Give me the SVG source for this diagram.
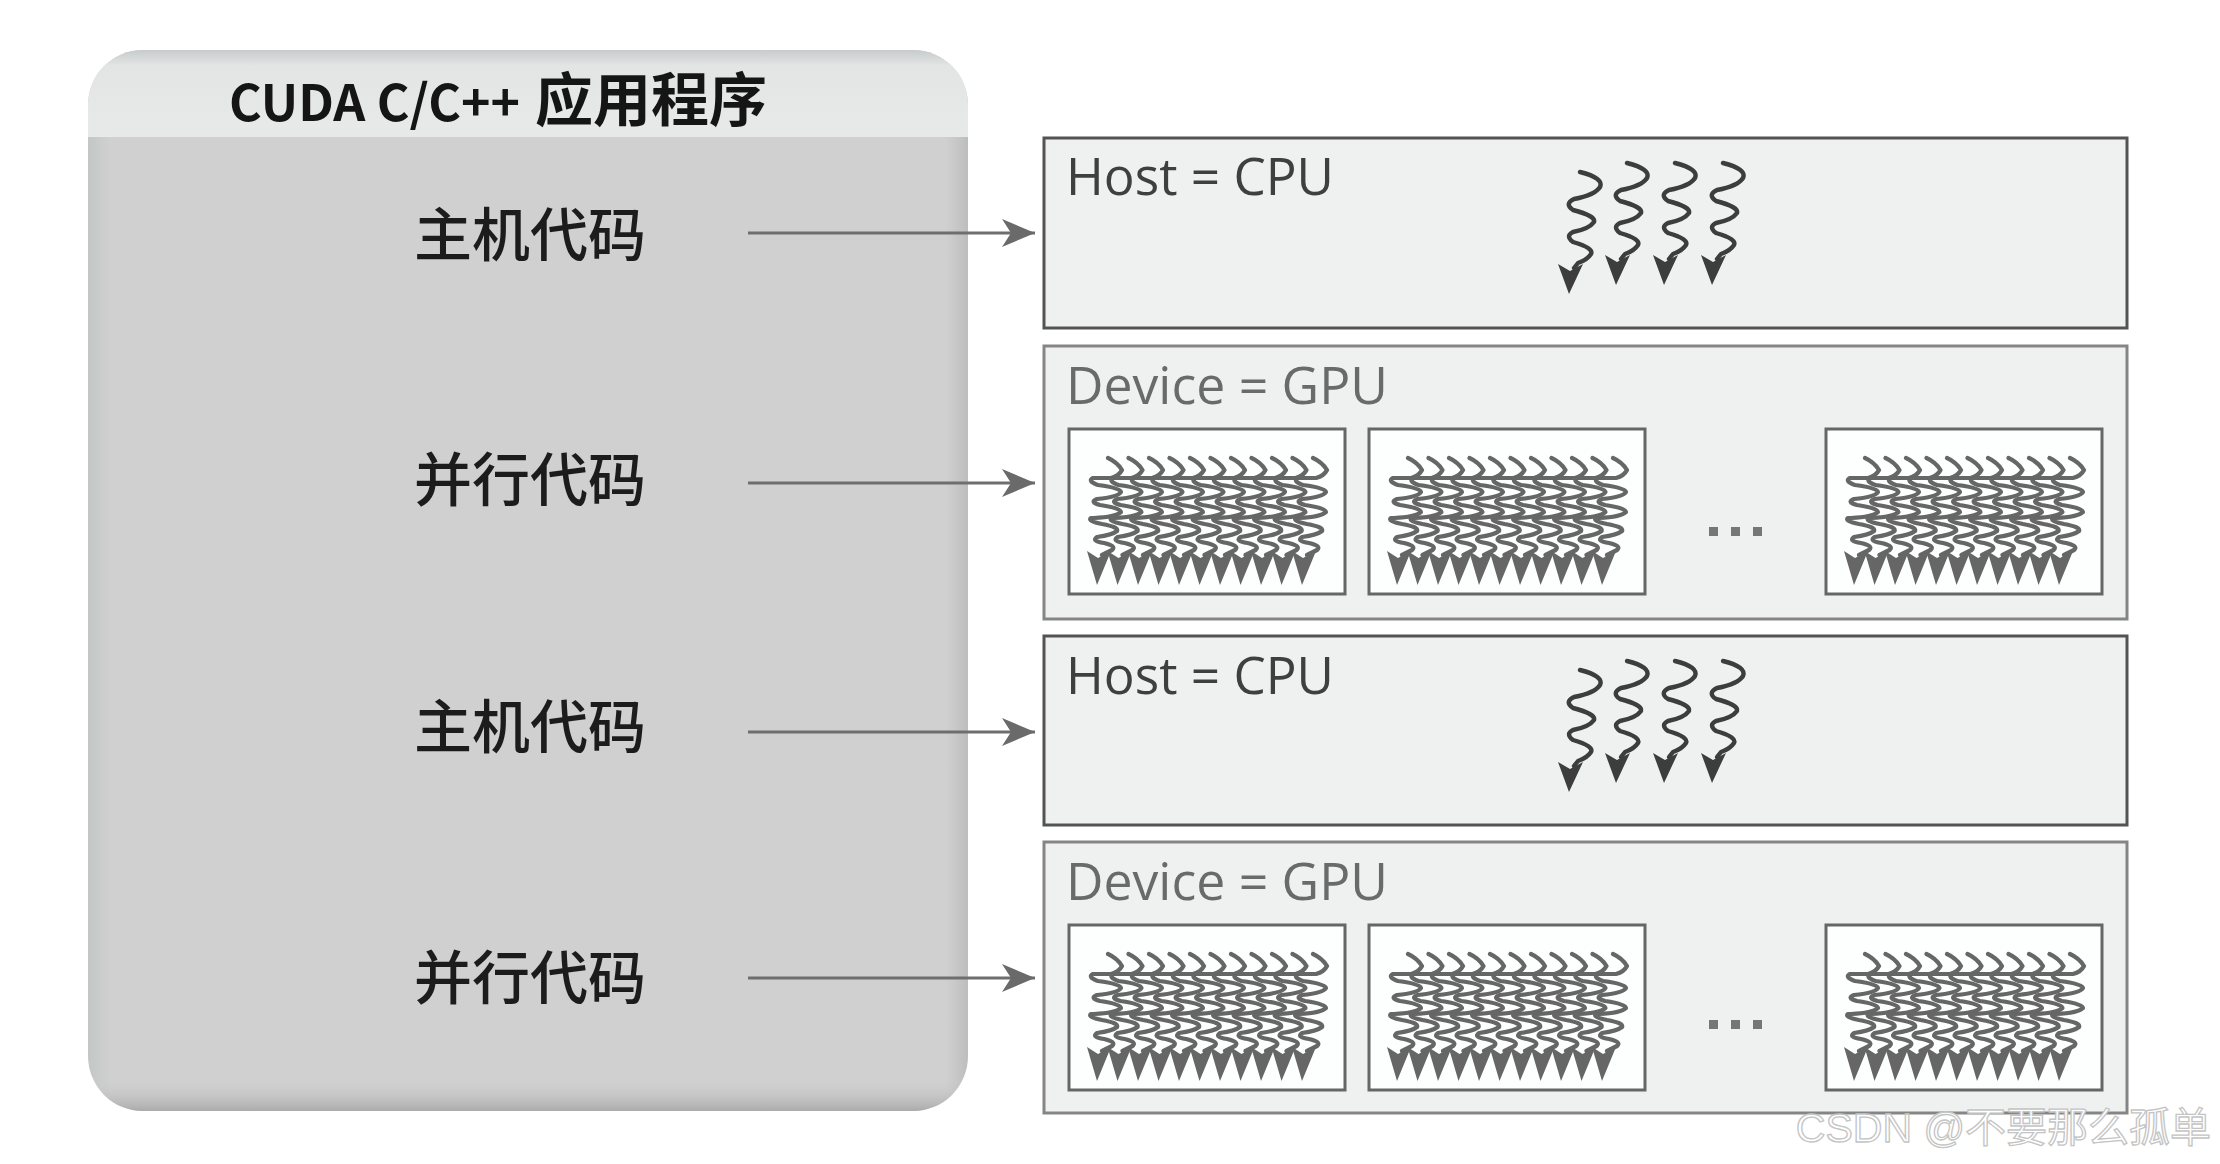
<svg xmlns="http://www.w3.org/2000/svg" width="2220" height="1164" viewBox="0 0 2220 1164">
<style>
.title{font-family:"Noto Sans CJK SC","Liberation Sans",sans-serif;font-weight:700;fill:#151515}
.lbl{font-family:"Noto Sans CJK SC",sans-serif;font-size:58px;fill:#1c1c1c;text-anchor:middle;font-weight:500}
.hbox{fill:#eff1f1;stroke:#535353;stroke-width:3}
.dbox{fill:#eff1f1;stroke:#858585;stroke-width:3}
.blk{fill:#fdfefe;stroke:#666;stroke-width:3}
.gt{fill:none;stroke:#666;stroke-width:4.2;stroke-linejoin:round;stroke-linecap:round}
.ga{fill:#666}
.ct{fill:none;stroke:#3d3d3d;stroke-width:4.4;stroke-linejoin:round;stroke-linecap:round}
.ca{fill:#3d3d3d}
.conn{stroke:#6e6e6e;stroke-width:3;fill:none}
.htxt{font-family:"Open Sans","Liberation Sans",sans-serif;font-size:51px;font-weight:400;fill:#3f3f3f}
.dtxt{font-family:"Open Sans","Liberation Sans",sans-serif;font-size:51px;font-weight:400;fill:#6a6a6a}
.dots{fill:#767676}
.wm{font-family:"Liberation Sans","Noto Sans CJK SC",sans-serif;font-size:41px;fill:#ffffff;stroke:#c4c4c4;stroke-width:1.3;text-anchor:end}
</style>
<defs>
<marker id="arr" markerWidth="36" markerHeight="30" refX="33" refY="15" orient="auto" markerUnits="userSpaceOnUse">
<path d="M0,1 L33,15 L0,29 L9,15 Z" fill="#6a6a6a"/>
</marker>
<clipPath id="pclip"><rect x="88" y="50" width="880" height="1061" rx="55" ry="55"/></clipPath>
<linearGradient id="bodyG" x1="0" y1="0" x2="1" y2="0">
<stop offset="0" stop-color="#c4c6c6"/><stop offset="0.025" stop-color="#d0d0d0"/><stop offset="0.975" stop-color="#d0d0d0"/><stop offset="1" stop-color="#bdbdbd"/>
</linearGradient>
<linearGradient id="hdrG" x1="0" y1="50" x2="0" y2="137" gradientUnits="userSpaceOnUse">
<stop offset="0" stop-color="#c8cbcb"/><stop offset="0.18" stop-color="#e3e5e5"/><stop offset="1" stop-color="#e8eaea"/>
</linearGradient>
<linearGradient id="botG" x1="0" y1="1078" x2="0" y2="1111" gradientUnits="userSpaceOnUse">
<stop offset="0" stop-color="#d0d0d0" stop-opacity="0"/><stop offset="1" stop-color="#ababab"/>
</linearGradient>
<g id="gthr">
<path class="gt" d="M0,0 Q9,4 14,12 Q11,18 3,20 L-15,20 Q-21,23 -10,27 Q13,30 13,34 Q10,39 -11,41 Q-19,44 -8,47 Q13,50 13,54 Q8,59 -14,60 L-17,60 Q-21,63 -6,66 Q11,69 9,73 Q4,77 -11,79 Q-17,83 -4,85 Q9,88 4,92 L-6,97"/>
<path class="ga" d="M-21,93 L-10,100 L3,93 L-11,127 Z"/>
</g>
<g id="gblk">
<rect class="blk" x="0" y="0" width="276" height="165"/>
<use href="#gthr" x="39" y="29"/>
<use href="#gthr" x="59.5" y="29"/>
<use href="#gthr" x="80" y="29"/>
<use href="#gthr" x="100.5" y="29"/>
<use href="#gthr" x="121" y="29"/>
<use href="#gthr" x="141.5" y="29"/>
<use href="#gthr" x="162" y="29"/>
<use href="#gthr" x="182.5" y="29"/>
<use href="#gthr" x="203" y="29"/>
<use href="#gthr" x="223.5" y="29"/>
<use href="#gthr" x="244" y="29"/>
</g>
<g id="cthr">
<path class="ct" d="M0,0 Q24,6 20,15 Q15,23 -6,27 Q-16,32 -7,38 Q16,44 14,50 Q9,57 -7,60 Q-15,64 -7,70 Q14,76 11,82 Q7,88 -2,91 L-6,96"/>
<path class="ca" d="M-22,92 L-10,99 L3,92 L-11,122 Z"/>
</g>
</defs>
<rect x="0" y="0" width="2220" height="1164" fill="#ffffff"/>

<g id="app">
<g clip-path="url(#pclip)">
<rect x="88" y="50" width="880" height="1061" fill="url(#bodyG)"/>
<rect x="88" y="50" width="880" height="87" fill="url(#hdrG)"/>
<rect x="88" y="1078" width="880" height="33" fill="url(#botG)"/>
</g>
<text class="title" x="229" y="121"><tspan font-size="50">CUDA C/C++</tspan><tspan x="535" font-size="58">应用程序</tspan></text>
</g>

<g id="label-host1"><text class="lbl" x="530" y="256">主机代码</text></g>
<g id="label-par1"><text class="lbl" x="530" y="501">并行代码</text></g>
<g id="label-host2"><text class="lbl" x="530" y="748">主机代码</text></g>
<g id="label-par2"><text class="lbl" x="530" y="999">并行代码</text></g>

<g id="host1">
<rect class="hbox" x="1044" y="138" width="1083" height="190"/>
<text class="htxt" x="1066" y="195" textLength="268" lengthAdjust="spacingAndGlyphs">Host = CPU</text>
<use href="#cthr" x="1580" y="172"/>
<use href="#cthr" x="1627" y="163"/>
<use href="#cthr" x="1675" y="163"/>
<use href="#cthr" x="1723" y="163"/>
</g>

<g id="device1">
<rect class="dbox" x="1044" y="346" width="1083" height="273"/>
<text class="dtxt" x="1066" y="404" textLength="322" lengthAdjust="spacingAndGlyphs">Device = GPU</text>
<use href="#gblk" x="1069" y="429"/>
<use href="#gblk" x="1369" y="429"/>
<use href="#gblk" x="1826" y="429"/>
<rect class="dots" x="1709" y="527" width="9" height="9"/>
<rect class="dots" x="1731" y="527" width="9" height="9"/>
<rect class="dots" x="1753" y="527" width="9" height="9"/>
</g>

<g id="host2">
<rect class="hbox" x="1044" y="636" width="1083" height="189"/>
<text class="htxt" x="1066" y="694" textLength="268" lengthAdjust="spacingAndGlyphs">Host = CPU</text>
<use href="#cthr" x="1580" y="670"/>
<use href="#cthr" x="1627" y="661"/>
<use href="#cthr" x="1675" y="661"/>
<use href="#cthr" x="1723" y="661"/>
</g>

<g id="device2">
<rect class="dbox" x="1044" y="842" width="1083" height="271"/>
<text class="dtxt" x="1066" y="900" textLength="322" lengthAdjust="spacingAndGlyphs">Device = GPU</text>
<use href="#gblk" x="1069" y="925"/>
<use href="#gblk" x="1369" y="925"/>
<use href="#gblk" x="1826" y="925"/>
<rect class="dots" x="1709" y="1020" width="9" height="9"/>
<rect class="dots" x="1731" y="1020" width="9" height="9"/>
<rect class="dots" x="1753" y="1020" width="9" height="9"/>
</g>

<g id="connectors">
<line class="conn" x1="748" y1="233" x2="1035" y2="233" marker-end="url(#arr)"/>
<line class="conn" x1="748" y1="483" x2="1035" y2="483" marker-end="url(#arr)"/>
<line class="conn" x1="748" y1="732" x2="1035" y2="732" marker-end="url(#arr)"/>
<line class="conn" x1="748" y1="978" x2="1035" y2="978" marker-end="url(#arr)"/>
</g>

<text class="wm" x="2211" y="1142">CSDN @不要那么孤单</text>
</svg>
